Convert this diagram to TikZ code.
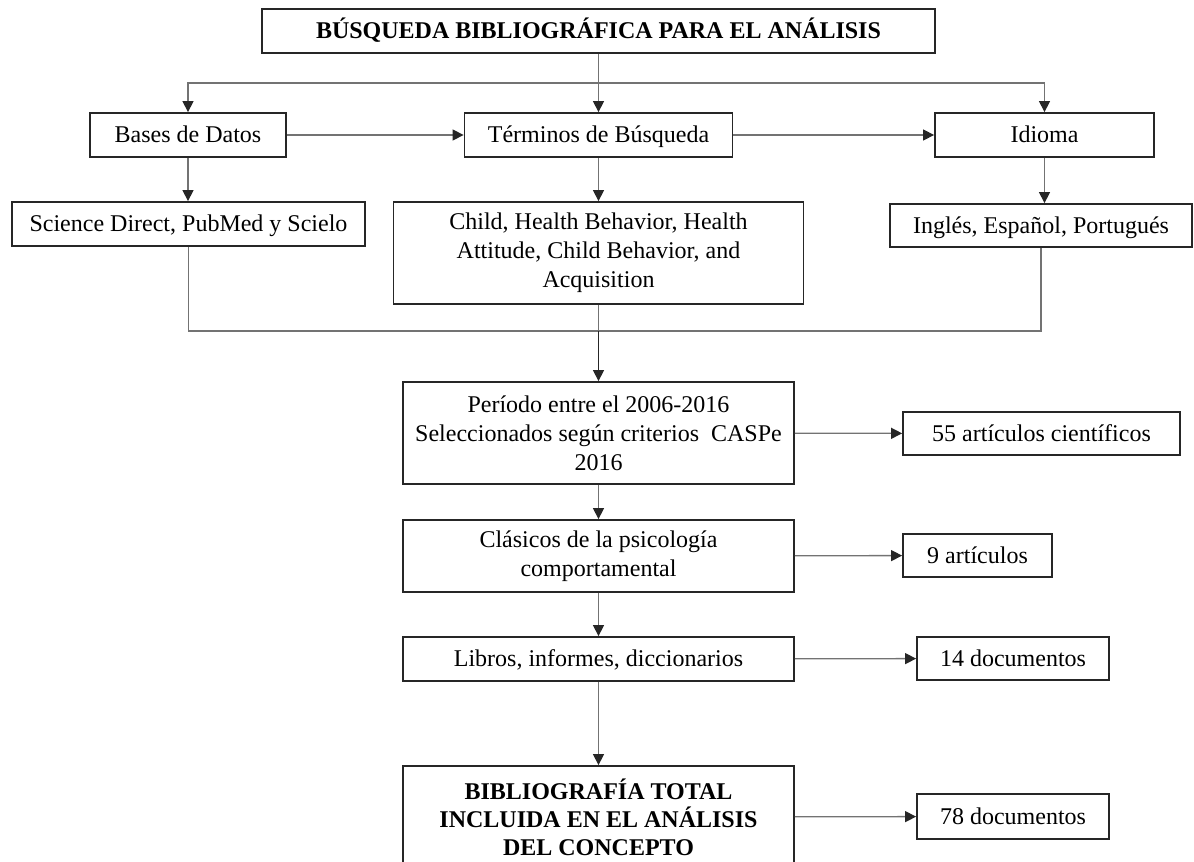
\documentclass[tikz,border=0pt]{standalone}
\usepackage{fontspec}
\setmainfont{Liberation Serif}
\usetikzlibrary{arrows.meta}
\newcommand{\letra}{\fontsize{24pt}{29pt}\selectfont}
\newcommand{\negra}{\fontsize{24pt}{28pt}\selectfont\bfseries}

\begin{document}
\begin{tikzpicture}[x=1pt,y=-1pt,font=\letra,
  >={Triangle[length=11pt,width=11pt,color=black!85]},
  caja/.style={draw=black!85,line width=1.8pt,rectangle,inner sep=0pt,align=center},
  una/.style={caja,text height=19pt,text depth=4pt},
  linea/.style={draw=black!55,line width=1.3pt}]
\useasboundingbox (0,0) rectangle (1194,862);

\node[una,font=\negra,minimum width=673pt,minimum height=44pt] (titulo) at (598.5,31) {BÚSQUEDA BIBLIOGRÁFICA PARA EL ANÁLISIS};
\node[una,minimum width=196pt,minimum height=44pt] (bases) at (188,135) {Bases de Datos};
\node[una,minimum width=268pt,minimum height=44pt] (terminos) at (598.5,135) {Términos de Búsqueda};
\node[una,minimum width=219pt,minimum height=44pt] (idioma) at (1044.5,135) {Idioma};
\node[una,minimum width=353pt,minimum height=44pt] (science) at (188.5,224) {Science Direct, PubMed y Scielo};
\node[caja,minimum width=410pt,minimum height=102pt] (child) at (598.5,253) {Child, Health Behavior, Health\\
  Attitude, Child Behavior, and\\ Acquisition};
\node[una,minimum width=302pt,minimum height=43pt] (ingles) at (1041,225.5) {Inglés, Español, Portugués};
\node[caja,minimum width=391pt,minimum height=102pt] (periodo) at (598.5,433) {Período entre el 2006-2016\\
  Seleccionados según criterios\ \ CASPe\\ 2016};
\node[una,minimum width=277pt,minimum height=43pt] (cien) at (1041.5,433.5) {55 artículos científicos};
\node[caja,minimum width=391pt,minimum height=72pt] (clasicos) at (598.5,556) {Clásicos de la psicología\\ comportamental};
\node[una,minimum width=149pt,minimum height=43pt] (nueve) at (977.5,555.5) {9 artículos};
\node[una,minimum width=391pt,minimum height=44pt] (libros) at (598.5,659) {Libros, informes, diccionarios};
\node[una,minimum width=192pt,minimum height=43pt] (catorce) at (1013,658.5) {14 documentos};
\node[caja,font=\negra,minimum width=391pt,minimum height=102pt] (total) at (598.5,817) {BIBLIOGRAFÍA TOTAL\\
  INCLUIDA EN EL ANÁLISIS\\ DEL CONCEPTO};
\node[una,minimum width=192pt,minimum height=45pt] (setenta) at (1013,816.5) {78 documentos};

\coordinate (rama) at (598.5,83);
\coordinate (union) at (598.5,331);

% ramas de la busqueda
\draw[linea] (titulo.south) -- (rama);
\draw[linea,->] (rama) -| (bases.north);
\draw[linea,->] (rama) -- (terminos.north);
\draw[linea,->] (rama) -| (idioma.north);
\draw[linea,->] (bases) -- (terminos);
\draw[linea,->] (terminos) -- (idioma);
\draw[linea,->] (bases.south) -- (bases.south |- science.north);
\draw[linea,->] (terminos.south) -- (terminos.south |- child.north);
\draw[linea,->] (idioma.south) -- (idioma.south |- ingles.north);

% union de resultados
\draw[linea] (science.south) |- (union) -| (ingles.south);
\draw[linea] (child.south) -- (union);
\draw[linea,draw=black!85,->] (union) -- (periodo.north);

% seleccion
\draw[linea,->] (periodo) -- (clasicos);
\draw[linea,->] (clasicos) -- (libros);
\draw[linea,->] (libros) -- (total);
\draw[linea,->] (periodo) -- (cien);
\draw[linea,->] (clasicos) -- (nueve);
\draw[linea,->] (libros) -- (catorce);
\draw[linea,->] (total) -- (setenta);
\end{tikzpicture}
\end{document}
